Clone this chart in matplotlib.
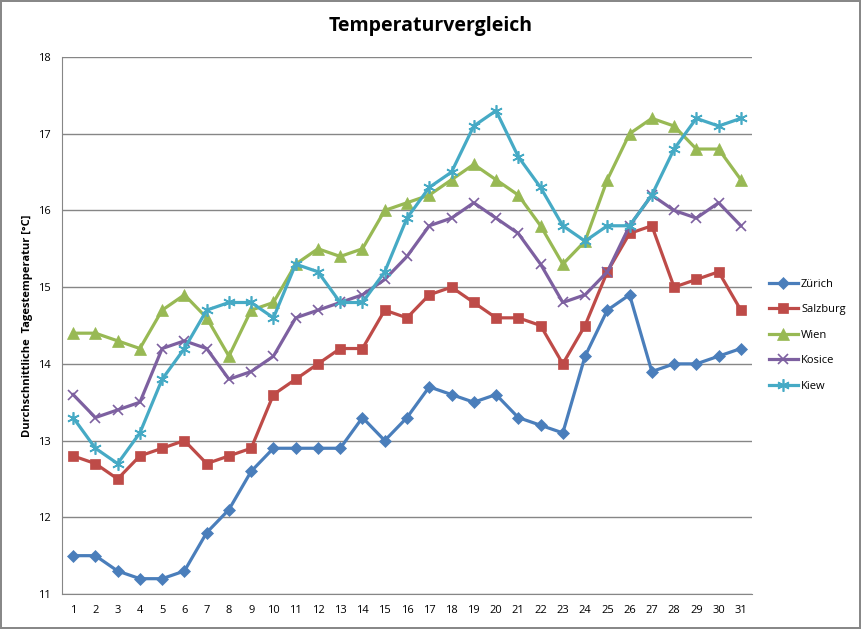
import matplotlib.pyplot as plt

# Tage des Monats
days = list(range(1, 32))

# Durchschnittliche Tagestemperatur je Stadt
zuerich = [11.5, 11.5, 11.3, 11.2, 11.2, 11.3, 11.8, 12.1, 12.6, 12.9, 12.9, 12.9, 12.9, 13.3, 13.0, 13.3,
           13.7, 13.6, 13.5, 13.6, 13.3, 13.2, 13.1, 14.1, 14.7, 14.9, 13.9, 14.0, 14.0, 14.1, 14.2]
salzburg = [12.8, 12.7, 12.5, 12.8, 12.9, 13.0, 12.7, 12.8, 12.9, 13.6, 13.8, 14.0, 14.2, 14.2, 14.7, 14.6,
            14.9, 15.0, 14.8, 14.6, 14.6, 14.5, 14.0, 14.5, 15.2, 15.7, 15.8, 15.0, 15.1, 15.2, 14.7]
wien = [14.4, 14.4, 14.3, 14.2, 14.7, 14.9, 14.6, 14.1, 14.7, 14.8, 15.3, 15.5, 15.4, 15.5, 16.0, 16.1,
        16.2, 16.4, 16.6, 16.4, 16.2, 15.8, 15.3, 15.6, 16.4, 17.0, 17.2, 17.1, 16.8, 16.8, 16.4]
kosice = [13.6, 13.3, 13.4, 13.5, 14.2, 14.3, 14.2, 13.8, 13.9, 14.1, 14.6, 14.7, 14.8, 14.9, 15.1, 15.4,
          15.8, 15.9, 16.1, 15.9, 15.7, 15.3, 14.8, 14.9, 15.2, 15.8, 16.2, 16.0, 15.9, 16.1, 15.8]
kiew = [13.3, 12.9, 12.7, 13.1, 13.8, 14.2, 14.7, 14.8, 14.8, 14.6, 15.3, 15.2, 14.8, 14.8, 15.2, 15.9,
        16.3, 16.5, 17.1, 17.3, 16.7, 16.3, 15.8, 15.6, 15.8, 15.8, 16.2, 16.8, 17.2, 17.1, 17.2]

names = ['Zürich', 'Salzburg', 'Wien', 'Kosice', 'Kiew']
series = [zuerich, salzburg, wien, kosice, kiew]
colors = ['#4A7EBB', '#BE4B48', '#98B954', '#7D60A0', '#46AAC5']
markers = ['D', 's', '^', 'x', (6, 2, 0)]
msizes = [6, 7, 8, 7, 9]

plt.rcParams['font.family'] = ['Open Sans', 'DejaVu Sans']

fig = plt.figure(figsize=(8.61, 6.29), dpi=100)
fig.patch.set_edgecolor('#888888')
fig.patch.set_linewidth(1.5)
ax = fig.add_axes([0.072, 0.0556, 0.8014, 0.8538])

for name, vals, c, m, ms in zip(names, series, colors, markers, msizes):
    ax.plot(days, vals, color=c, lw=2.3, marker=m, markersize=ms,
            markeredgewidth=1.2 if m in ('x', (6, 2, 0)) else 0.5, label=name)

ax.set_xlim(0.5, 31.5)
ax.set_ylim(11, 18)
ax.set_xticks(days)
ax.set_yticks(range(11, 19))
ax.tick_params(axis='both', length=0, labelsize=8, pad=8)
ax.grid(axis='y', color='#868686', lw=1)
ax.set_axisbelow(True)
for s in ['top', 'right']:
    ax.spines[s].set_visible(False)
for s in ['left', 'bottom']:
    ax.spines[s].set_color('#868686')

ax.set_ylabel('Durchschnittliche  Tagestemperatur [°C]', fontsize=8, fontweight='bold', labelpad=4)
fig.suptitle('Temperaturvergleich', fontsize=14, fontweight='bold', y=0.975)

ax.legend(loc='center left', bbox_to_anchor=(1.01, 0.482), frameon=False, fontsize=8,
          handlelength=2.6, labelspacing=1.3, handletextpad=0.3)

fig.savefig('out.png', dpi=100, edgecolor=fig.get_edgecolor())
